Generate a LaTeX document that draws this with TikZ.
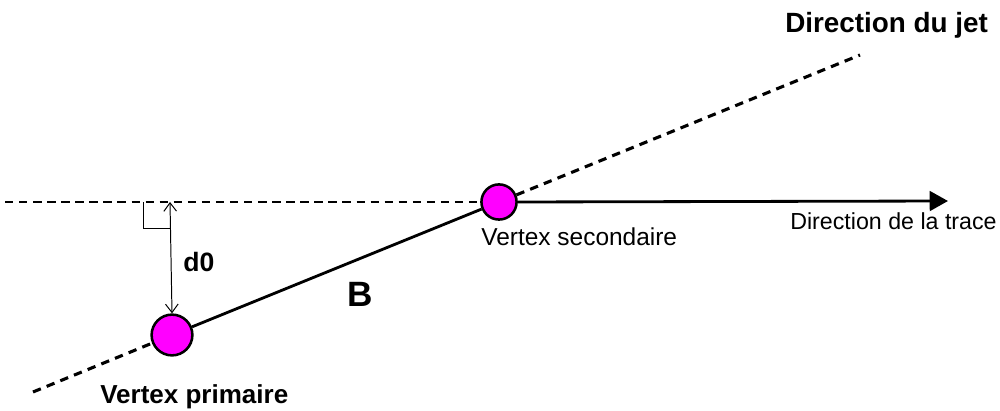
\documentclass[tikz,border=0pt]{standalone}
\usepackage{fontspec}
\setmainfont{Liberation Sans}
\usetikzlibrary{arrows.meta}
\definecolor{vmag}{RGB}{255,0,255}
\begin{document}
\begin{tikzpicture}[x=0.025cm,y=-0.025cm,
  vtx/.style={circle,draw=black,line width=1.8pt,fill=vmag,inner sep=0pt},
  dashln/.style={line width=2.2pt,dash pattern=on 6pt off 4.5pt},
  hdashln/.style={line width=1.6pt,dash pattern=on 6pt off 4pt},
  solidln/.style={line width=2pt},
  thinln/.style={line width=0.7pt},
  lbl/.style={anchor=base west,inner sep=0pt}]
\useasboundingbox (0,0) rectangle (1000,411);
% vertices
\node[vtx,minimum width=29pt,minimum height=28pt] (pv) at (172,335) {};
\node[vtx,minimum width=25pt,minimum height=25pt] (sv) at (499,202) {};
% coordinates
\coordinate (hl) at (5,202);
\coordinate (tr) at (948,201);
\coordinate (js) at (33,392);
\coordinate (je) at (860,55);
\coordinate (dtop) at (170,202);
\coordinate (ra1) at (143,202);
\coordinate (ra2) at (143,228);
\coordinate (ra3) at (170,228);
% lines
\draw[hdashln] (hl) -- (sv.west);
\draw[solidln,-{Triangle[length=13pt,width=14pt]}] (sv.east) -- (tr);
\draw[dashln] (js) -- (pv);
\draw[dashln] (sv) -- (je);
\draw[solidln] (pv) -- (sv);
\draw[thinln,{Straight Barb[length=6pt,width=9pt]}-{Straight Barb[length=6pt,width=9pt]}] (dtop) -- (pv.north);
\draw[thinln] (ra1) -- (ra2) -- (ra3);
% labels
\node[lbl,font=\fontsize{19.8pt}{22pt}\selectfont\bfseries] (tjet) at (785,33) {Direction du jet};
\node[lbl,font=\fontsize{16.5pt}{19pt}\selectfont] (ttr) at (790,230) {Direction de la trace};
\node[lbl,font=\fontsize{17.4pt}{20pt}\selectfont] (tsv) at (481,246) {Vertex secondaire};
\node[lbl,font=\fontsize{18.5pt}{21pt}\selectfont\bfseries] (tpv) at (100,404) {Vertex primaire};
\node[lbl,font=\fontsize{18.9pt}{21pt}\selectfont\bfseries] (td0) at (183,272) {d0};
\node[lbl,font=\fontsize{25pt}{28pt}\selectfont\bfseries] (tb) at (347,307) {B};
\end{tikzpicture}
\end{document}
